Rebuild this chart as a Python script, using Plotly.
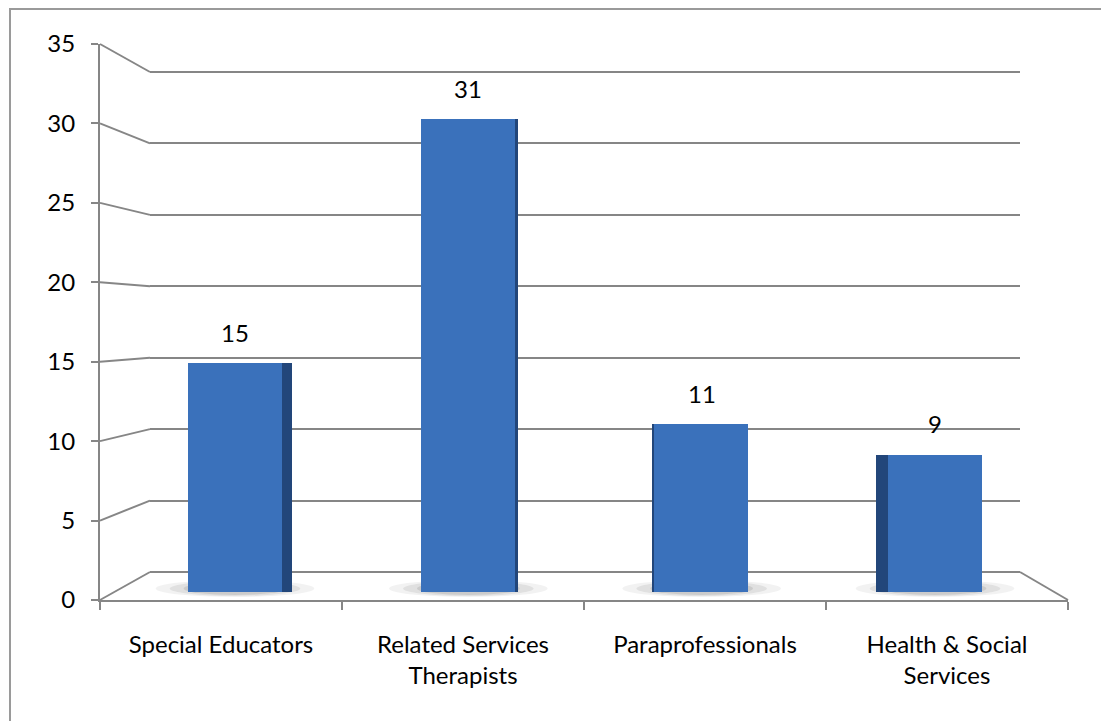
import plotly.graph_objects as go

# ---------------- data ----------------
categories = ["Special Educators", "Related Services Therapists",
              "Paraprofessionals", "Health & Social Services"]
tick_labels = ["Special Educators", "Related Services<br>Therapists",
               "Paraprofessionals", "Health & Social<br>Services"]
values = [15, 31, 11, 9]
y_ticks = [0, 5, 10, 15, 20, 25, 30, 35]

# ---------------- geometry / style ----------------
W, H = 1101, 721
FONT = "Lato"
FS = 24
GRID = "#868686"
BAR_FRONT = "#3a71bb"
BAR_SIDE = "#22467a"

def fx(p):
    return p / W

def fy(p):
    return 1 - p / H

# front (labelled) axis, back wall, and mid-depth bar plane, in pixels
FRONT = dict(left=100, right=1068, top=44, bottom=600)
BACK = dict(left=150, right=1020, top=72, bottom=572)
BARS = dict(left=118.3, right=1051.7, bottom=592, px_per_unit=15.25)
YMAX = 35
PAD = 0.5   # range padding for the back wall so edge gridlines are drawn
back_ppu = (BACK["bottom"] - BACK["top"]) / YMAX
bar_top_px = BARS["bottom"] - BARS["px_per_unit"] * YMAX
slot_px = (BARS["right"] - BARS["left"]) / len(categories)
front_w = 94 / slot_px
side_px = [10, 3, -2, -12]   # visible side face of each 3D column (px, + right / - left)

def front_y(v):
    return fy(FRONT["bottom"] - (FRONT["bottom"] - FRONT["top"]) * v / YMAX)

def back_y(v):
    return fy(BACK["bottom"] - back_ppu * v)

fig = go.Figure()

# invisible anchors so the front axes and the back-wall subplot are drawn
fig.add_trace(go.Scatter(x=[categories[0]], y=[0], xaxis="x", yaxis="y",
                         mode="markers", marker=dict(opacity=0),
                         hoverinfo="skip", showlegend=False))
fig.add_trace(go.Scatter(x=[0.5], y=[0], xaxis="x2", yaxis="y2",
                         mode="markers", marker=dict(opacity=0),
                         hoverinfo="skip", showlegend=False))

# dark side faces of the columns
side_offset = []
side_width = []
for s in side_px:
    if s >= 0:
        side_offset.append(-front_w / 2)
        side_width.append(front_w + s / slot_px)
    else:
        side_offset.append(-front_w / 2 + s / slot_px)
        side_width.append(front_w - s / slot_px)

xpos = list(range(len(categories)))
fig.add_trace(go.Bar(
    x=xpos, y=values, xaxis="x3", yaxis="y3",
    offset=side_offset, width=side_width,
    marker=dict(color=BAR_SIDE, line=dict(width=0)),
    hoverinfo="skip", showlegend=False,
))
fig.add_trace(go.Bar(
    x=xpos, y=values, xaxis="x3", yaxis="y3",
    width=front_w,
    marker=dict(color=BAR_FRONT, line=dict(width=0)),
    hovertext=categories, showlegend=False,
))

shapes = []
# connectors from front axis ticks to the back wall gridlines
for v in y_ticks:
    shapes.append(dict(type="line", xref="paper", yref="paper",
                       x0=fx(FRONT["left"]), y0=front_y(v),
                       x1=fx(BACK["left"]), y1=back_y(v),
                       line=dict(color=GRID, width=2)))
# right edge of the floor
shapes.append(dict(type="line", xref="paper", yref="paper",
                   x0=fx(BACK["right"]), y0=back_y(0),
                   x1=fx(FRONT["right"]), y1=front_y(0),
                   line=dict(color=GRID, width=2)))
# soft shadows under the columns
for i in xpos:
    for k, (half, op) in enumerate([(0.34, 0.05), (0.28, 0.07), (0.22, 0.09)]):
        shapes.append(dict(type="circle", xref="x3", yref="paper", layer="below",
                           x0=i - half, x1=i + half,
                           y0=fy(597 - k), y1=fy(580 + k),
                           fillcolor=f"rgba(0,0,0,{op})", line=dict(width=0)))
# chart area border
shapes.append(dict(type="rect", xref="paper", yref="paper",
                   x0=fx(10), y0=-0.05, x1=1.05, y1=fy(9),
                   line=dict(color="#9a9a9a", width=2), fillcolor="rgba(0,0,0,0)"))

annotations = []
for i, v in enumerate(values):
    annotations.append(dict(x=i, y=v, xref="x3", yref="y3", text=str(v),
                            showarrow=False, yshift=31, yanchor="middle",
                            font=dict(family=FONT, size=FS, color="#000")))

fig.update_layout(
    width=W, height=H,
    margin=dict(l=0, r=0, t=0, b=0, pad=0, autoexpand=False),
    paper_bgcolor="white", plot_bgcolor="rgba(0,0,0,0)",
    showlegend=False, bargap=0,
    font=dict(family=FONT, size=FS, color="#000"),
    # front category axis (floor front edge)
    xaxis=dict(domain=[fx(FRONT["left"]), fx(FRONT["right"])],
               anchor="y", type="category", automargin=False,
               categoryorder="array", categoryarray=categories,
               tickvals=categories, ticktext=tick_labels,
               range=[-0.5, len(categories) - 0.5],
               showline=True, linecolor=GRID, linewidth=2,
               ticks="outside", tickson="boundaries", ticklen=8,
               tickcolor=GRID, tickwidth=2, showgrid=False, zeroline=False,
               tickfont=dict(family=FONT, size=FS, color="#000"),
               ticklabelstandoff=22),
    # front value axis
    yaxis=dict(domain=[fy(FRONT["bottom"]), fy(FRONT["top"])],
               anchor="x", range=[0, YMAX], tickvals=y_ticks, automargin=False,
               showline=True, linecolor=GRID, linewidth=2,
               ticks="outside", ticklen=7, tickcolor=GRID, tickwidth=2,
               showgrid=False, zeroline=False,
               tickfont=dict(family=FONT, size=FS, color="#000"),
               ticklabelstandoff=11),
    # back wall gridlines
    xaxis2=dict(domain=[fx(BACK["left"]), fx(BACK["right"])], anchor="y2",
                range=[0, 1], visible=False, automargin=False),
    yaxis2=dict(domain=[fy(BACK["bottom"] + PAD * back_ppu),
                        fy(BACK["top"] - PAD * back_ppu)],
                anchor="x2", automargin=False,
                range=[-PAD, YMAX + PAD], tickvals=y_ticks, showticklabels=False,
                showgrid=True, gridcolor=GRID, gridwidth=2,
                zeroline=False, showline=False, ticks=""),
    # column plane
    xaxis3=dict(domain=[fx(BARS["left"]), fx(BARS["right"])], anchor="y3",
                range=[-0.5, len(categories) - 0.5], visible=False,
                automargin=False),
    yaxis3=dict(domain=[fy(BARS["bottom"]), fy(bar_top_px)], anchor="x3",
                range=[0, YMAX], visible=False, automargin=False),
    shapes=shapes,
    annotations=annotations,
)

fig.write_html("out.html")
